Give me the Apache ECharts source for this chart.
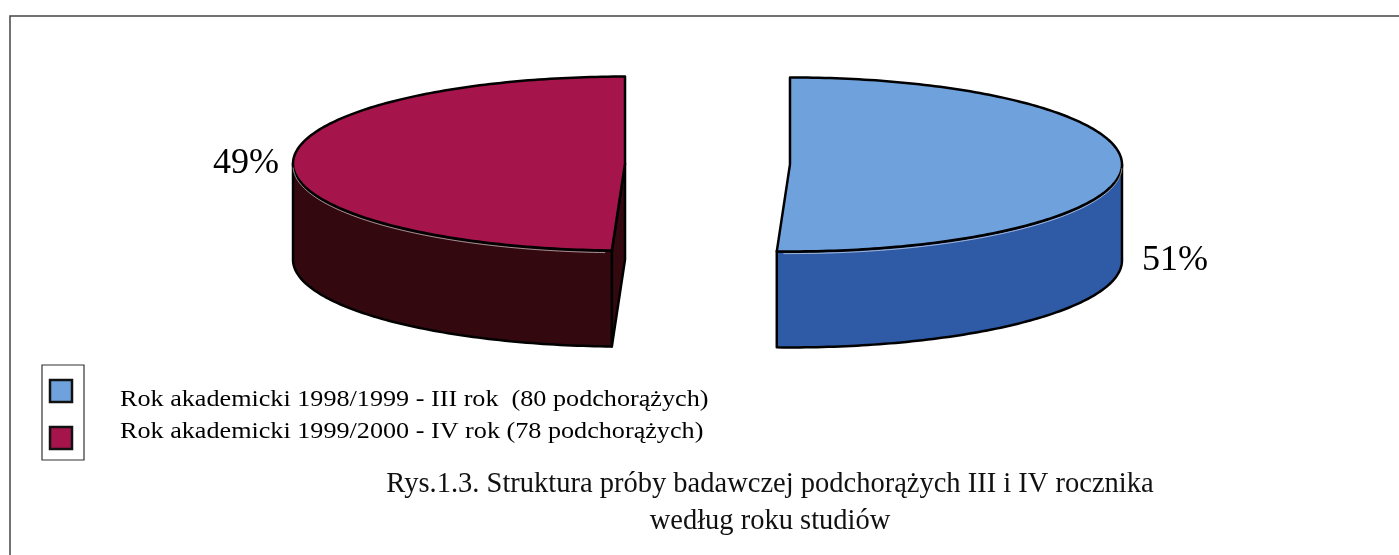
<!DOCTYPE html>
<html>
<head>
    <meta charset="utf-8">
    <title>Rys.1.3</title>
    <style type="text/css">
        body {
            margin: 0;
            background: #fff;
        }
        html, body, #main {
            width: 1399px;
            height: 555px;
        }
    </style>
</head>
<body>

    <div id="main"></div>
    <script src="https://cdn.jsdelivr.net/npm/echarts@6/dist/echarts.min.js"></script>

    <script>
        var categories = [
            'Rok akademicki 1998/1999 - III rok  (80 podchorążych)',
            'Rok akademicki 1999/2000 - IV rok (78 podchorążych)'
        ];
        var values = [80, 78];
        var titleLines = [
            'Rys.1.3. Struktura próby badawczej podchorążych III i IV rocznika',
            'według roku studiów'
        ];

        var topColors = ['#6fa2dd', '#a5154b'];
        var sideColors = ['#2f5aa5', '#33080f'];
        var serif = '"Liberation Serif", "DejaVu Serif", serif';

        var total = values.reduce(function (a, b) { return a + b; }, 0);

        // pseudo 3d pie geometry
        var cx0 = 707.5, cy0 = 164, rx = 332, ry = 87, depth = 96, explode = 82.5;
        var DEG = Math.PI / 180;

        function pt(cx, cy, a) {
            return [cx + rx * Math.sin(a), cy - ry * Math.cos(a)];
        }

        function arc(cx, cy, a0, a1) {
            var pts = [];
            var n = Math.max(2, Math.ceil(Math.abs(a1 - a0) / DEG));
            for (var i = 0; i <= n; i++) {
                pts.push(pt(cx, cy, a0 + (a1 - a0) * i / n));
            }
            return pts;
        }

        function down(p) {
            return [p[0], p[1] + depth];
        }

        var lineStyle = {
            stroke: '#000',
            lineWidth: 2.5,
            lineJoin: 'round'
        };

        function renderItem(params, api) {
            var idx = params.dataIndex;
            var before = 0;
            for (var i = 0; i < idx; i++) before += values[i];
            var a0 = before / total * 2 * Math.PI;
            var a1 = (before + api.value(0)) / total * 2 * Math.PI;
            var mid = (a0 + a1) / 2;
            var cx = cx0 + explode * Math.sin(mid);
            var cy = cy0 - explode * ry / rx * Math.cos(mid);
            var c = [cx, cy];
            var children = [];
            var side = sideColors[idx];

            // cut faces that turn towards the viewer
            if (Math.sin(a0) < -0.01) {
                var p0 = pt(cx, cy, a0);
                children.push({
                    type: 'polygon',
                    shape: { points: [c, p0, down(p0), down(c)] },
                    style: Object.assign({ fill: side }, lineStyle)
                });
            }
            if (Math.sin(a1) > 0.01) {
                var p1 = pt(cx, cy, a1);
                children.push({
                    type: 'polygon',
                    shape: { points: [c, p1, down(p1), down(c)] },
                    style: Object.assign({ fill: side }, lineStyle)
                });
            }

            // outer wall, front half only
            var s0 = Math.max(a0, Math.PI / 2);
            var s1 = Math.min(a1, Math.PI * 1.5);
            if (s1 > s0) {
                var topArc = arc(cx, cy, s0, s1);
                var bottomArc = topArc.map(down).reverse();
                children.push({
                    type: 'polygon',
                    shape: { points: topArc.concat(bottomArc) },
                    style: Object.assign({ fill: side }, lineStyle)
                });
            }

            // top face
            children.push({
                type: 'polygon',
                shape: { points: [c].concat(arc(cx, cy, a0, a1)) },
                style: Object.assign({ fill: topColors[idx] }, lineStyle)
            });

            // thin light rim along the front edge of the top face
            if (s1 > s0) {
                children.push({
                    type: 'polyline',
                    shape: { points: arc(cx, cy + 2.2, s0 + 0.02, s1 - 0.02) },
                    style: { stroke: 'rgba(255,255,255,0.55)', lineWidth: 1, fill: null }
                });
            }

            // percent label
            var pct = Math.round(api.value(0) / total * 100) + '%';
            var right = Math.sin(mid) > 0;
            children.push({
                type: 'text',
                style: {
                    x: right ? cx + rx + 20 : cx - rx - 14,
                    y: right ? cy + depth : cy,
                    text: pct,
                    fill: '#000',
                    font: '36px ' + serif,
                    align: right ? 'left' : 'right',
                    verticalAlign: 'middle'
                }
            });

            return { type: 'group', children: children };
        }

        // legend + caption + frame
        var graphics = [
            {
                type: 'polyline',
                shape: { points: [[1399, 16], [10, 16], [10, 555]] },
                style: { stroke: '#444', lineWidth: 1.5, fill: null }
            },
            {
                type: 'rect',
                shape: { x: 42, y: 365, width: 42, height: 95 },
                style: { fill: '#fff', stroke: '#333', lineWidth: 1.2 }
            }
        ];
        var squareY = [380, 427];
        var textY = [400, 432];
        categories.forEach(function (name, i) {
            graphics.push({
                type: 'rect',
                shape: { x: 50, y: squareY[i], width: 22, height: 22 },
                style: { fill: topColors[i], stroke: '#111', lineWidth: 2.5 }
            });
            graphics.push({
                type: 'text',
                x: 120,
                y: textY[i],
                scaleX: 1.09,
                style: {
                    x: 0,
                    y: 0,
                    text: name,
                    fill: '#000',
                    font: '24px ' + serif,
                    verticalAlign: 'middle'
                }
            });
        });
        titleLines.forEach(function (line, i) {
            graphics.push({
                type: 'text',
                style: {
                    x: 770,
                    y: 485 + i * 37,
                    text: line,
                    fill: '#111',
                    font: '28.5px ' + serif,
                    align: 'center',
                    verticalAlign: 'middle'
                }
            });
        });

        var chart = echarts.init(document.getElementById('main'));
        chart.setOption({
            backgroundColor: '#fff',
            animation: false,
            graphic: graphics,
            series: [{
                type: 'custom',
                name: 'struktura',
                coordinateSystem: 'none',
                renderItem: renderItem,
                data: values.map(function (v, i) {
                    return { name: categories[i], value: [v] };
                })
            }]
        });

        window.addEventListener('resize', function () {
            chart.resize();
        });
    </script>
</body>
</html>
